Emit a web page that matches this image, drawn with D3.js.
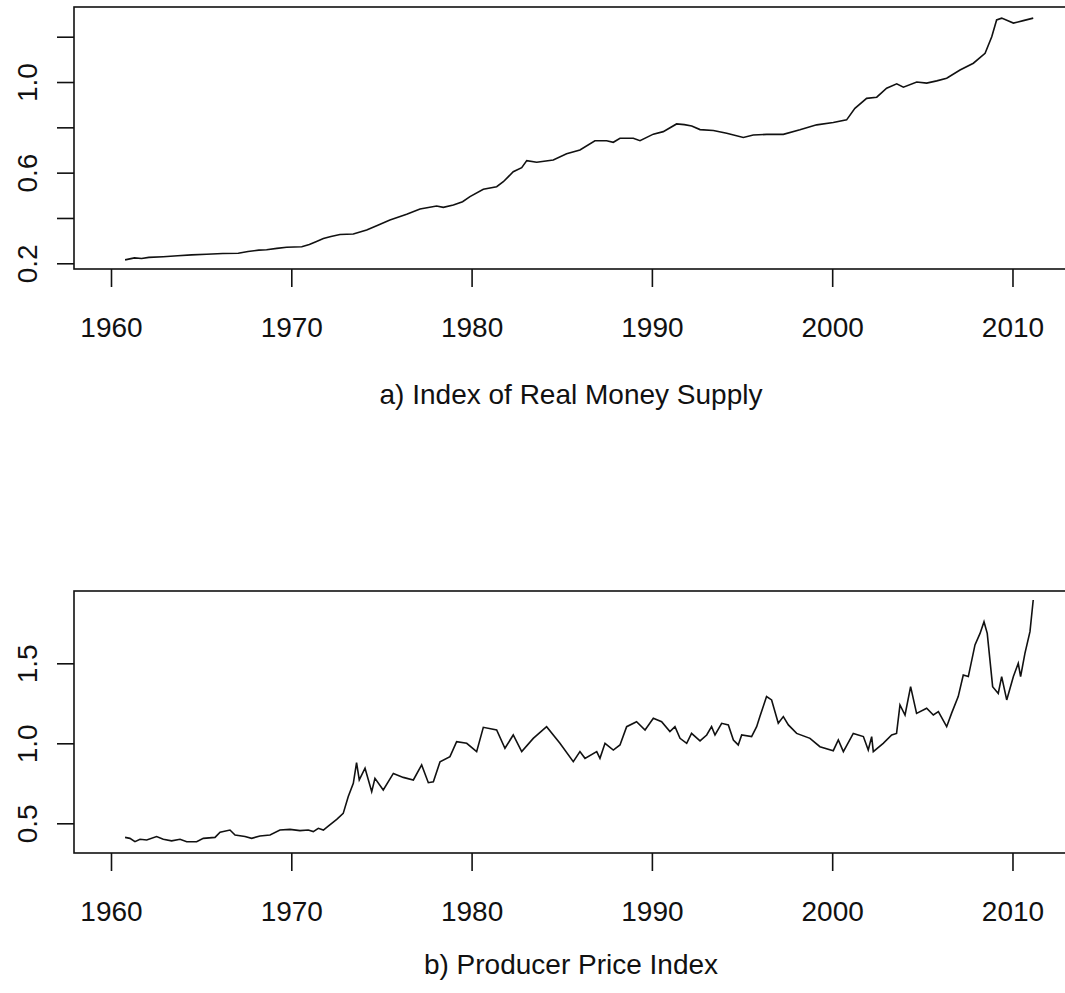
<!DOCTYPE html>
<html>
<head>
<meta charset="utf-8">
<script src="https://cdn.jsdelivr.net/npm/d3@7"></script>
<style>
  html, body { margin: 0; padding: 0; background: #fff; }
  svg { display: block; }
  text { font-family: "Liberation Sans", Arial, sans-serif; fill: #111; }
</style>
</head>
<body>
<svg id="chart" width="1065" height="993"></svg>
<script>
// ---- data -------------------------------------------------------------
// Panel a: index of real money supply (decimal year, index value)
const moneyYears = [1960.78, 1961.30, 1961.70, 1962.10, 1962.90, 1963.70, 1964.47, 1965.30, 1966.20,
  1967.06, 1967.60, 1968.20, 1968.63, 1969.20, 1969.74, 1970.58, 1971.00, 1971.40, 1971.78,
  1972.20, 1972.70, 1973.44, 1974.18, 1974.80, 1975.47, 1976.40, 1977.14, 1978.06, 1978.43,
  1978.99, 1979.50, 1979.91, 1980.65, 1981.39, 1981.76, 1982.31, 1982.78, 1983.06, 1983.61,
  1984.53, 1985.27, 1986.01, 1986.84, 1987.49, 1987.86, 1988.23, 1988.97, 1989.34, 1990.08,
  1990.63, 1991.37, 1991.80, 1992.21, 1992.67, 1993.41, 1994.15, 1995.07, 1995.62, 1996.37,
  1997.29, 1998.21, 1999.14, 2000.06, 2000.80, 2001.26, 2001.91, 2002.47, 2003.02, 2003.58,
  2003.95, 2004.69, 2005.24, 2005.80, 2006.35, 2007.09, 2007.83, 2008.48, 2008.85, 2009.12,
  2009.40, 2009.75, 2010.05, 2010.60, 2011.15];
const moneyValues = [0.215, 0.224, 0.221, 0.226, 0.229, 0.233, 0.237, 0.240, 0.243,
  0.244, 0.252, 0.258, 0.260, 0.266, 0.271, 0.273, 0.283, 0.296, 0.309,
  0.318, 0.327, 0.329, 0.347, 0.368, 0.391, 0.416, 0.440, 0.453, 0.447,
  0.457, 0.472, 0.494, 0.527, 0.538, 0.560, 0.604, 0.622, 0.653, 0.646,
  0.656, 0.683, 0.700, 0.741, 0.741, 0.734, 0.752, 0.752, 0.741, 0.770,
  0.781, 0.815, 0.812, 0.806, 0.790, 0.786, 0.774, 0.755, 0.766, 0.769,
  0.769, 0.789, 0.811, 0.821, 0.833, 0.884, 0.928, 0.933, 0.973, 0.992,
  0.977, 1.000, 0.995, 1.005, 1.017, 1.053, 1.083, 1.127, 1.200, 1.274,
  1.282, 1.270, 1.260, 1.271, 1.282];

// Panel b: producer price index (decimal year, index value)
const ppiYears = [1960.78, 1961.05, 1961.33, 1961.61, 1961.98, 1962.53, 1962.90, 1963.36, 1963.83,
  1964.20, 1964.75, 1965.12, 1965.77, 1966.05, 1966.60, 1966.88, 1967.43, 1967.80, 1968.26,
  1968.82, 1969.37, 1969.93, 1970.48, 1970.94, 1971.22, 1971.50, 1971.78, 1972.05, 1972.52,
  1972.88, 1973.16, 1973.44, 1973.62, 1973.77, 1974.09, 1974.46, 1974.64, 1975.10, 1975.66,
  1976.21, 1976.77, 1977.23, 1977.60, 1977.88, 1978.25, 1978.80, 1979.17, 1979.73, 1980.28,
  1980.65, 1981.39, 1981.85, 1982.31, 1982.78, 1983.42, 1984.16, 1984.90, 1985.64, 1986.01,
  1986.29, 1986.94, 1987.12, 1987.40, 1987.86, 1988.23, 1988.60, 1989.15, 1989.62, 1990.08,
  1990.54, 1991.00, 1991.28, 1991.56, 1991.93, 1992.20, 1992.67, 1993.04, 1993.31, 1993.50,
  1993.87, 1994.24, 1994.52, 1994.79, 1994.98, 1995.53, 1995.81, 1995.99, 1996.36, 1996.64,
  1997.01, 1997.29, 1997.57, 1998.03, 1998.77, 1999.32, 2000.06, 2000.34, 2000.62, 2001.17,
  2001.73, 2002.00, 2002.19, 2002.28, 2002.83, 2003.30, 2003.57, 2003.76, 2004.04, 2004.35,
  2004.68, 2005.24, 2005.61, 2005.89, 2006.35, 2006.62, 2006.99, 2007.27, 2007.55, 2007.92,
  2008.20, 2008.42, 2008.60, 2008.90, 2009.21, 2009.40, 2009.68, 2010.05, 2010.32, 2010.45,
  2010.69, 2010.97, 2011.15];
const ppiValues = [0.412, 0.406, 0.385, 0.400, 0.396, 0.417, 0.400, 0.390, 0.400,
  0.385, 0.385, 0.406, 0.412, 0.444, 0.458, 0.427, 0.417, 0.406, 0.421,
  0.427, 0.458, 0.462, 0.454, 0.458, 0.448, 0.469, 0.458, 0.483, 0.525,
  0.562, 0.667, 0.750, 0.879, 0.771, 0.844, 0.698, 0.781, 0.708, 0.812,
  0.787, 0.771, 0.865, 0.754, 0.760, 0.885, 0.917, 1.010, 1.000, 0.948,
  1.100, 1.083, 0.969, 1.052, 0.948, 1.031, 1.104, 1.000, 0.885, 0.948,
  0.906, 0.948, 0.906, 1.000, 0.958, 0.990, 1.104, 1.135, 1.083, 1.156,
  1.135, 1.073, 1.104, 1.031, 1.000, 1.062, 1.015, 1.052, 1.104, 1.052,
  1.125, 1.115, 1.021, 0.990, 1.052, 1.042, 1.104, 1.167, 1.292, 1.271,
  1.125, 1.167, 1.115, 1.062, 1.031, 0.979, 0.954, 1.021, 0.948, 1.062,
  1.042, 0.958, 1.042, 0.948, 1.000, 1.052, 1.062, 1.240, 1.177, 1.354,
  1.187, 1.219, 1.177, 1.198, 1.104, 1.187, 1.292, 1.427, 1.417, 1.615,
  1.687, 1.760, 1.687, 1.354, 1.312, 1.417, 1.271, 1.417, 1.500, 1.417,
  1.562, 1.698, 1.896];

const yearTicks = [1960, 1970, 1980, 1990, 2000, 2010];
const moneyTicks = [0.2, 0.4, 0.6, 0.8, 1.0, 1.2];
const moneyTickLabels = ["0.2", "", "0.6", "", "1.0", ""];
const ppiTicks = [0.5, 1.0, 1.5];
const ppiTickLabels = ["0.5", "1.0", "1.5"];

// ---- drawing ----------------------------------------------------------
const svg = d3.select("#chart");
svg.append("rect").attr("width", 1065).attr("height", 993).attr("fill", "#fff");

const FONT = 28;

function panel(opts) {
  const { top, bottom, left, right, xDomain, yDomain, years, values,
          yTicks, yLabels, title, titleY } = opts;
  const x = d3.scaleLinear().domain(xDomain).range([left, right]);
  const y = d3.scaleLinear().domain(yDomain).range([bottom, top]);
  const g = svg.append("g");

  // series line
  const pts = years.map((yr, i) => [yr, values[i]]);
  g.append("path")
    .datum(pts)
    .attr("fill", "none")
    .attr("stroke", "#111")
    .attr("stroke-width", 1.6)
    .attr("stroke-linejoin", "miter")
    .attr("d", d3.line().x(d => x(d[0])).y(d => y(d[1])));

  // plot frame
  g.append("rect")
    .attr("x", left).attr("y", top)
    .attr("width", right - left).attr("height", bottom - top)
    .attr("fill", "none").attr("stroke", "#111").attr("stroke-width", 1.6);

  // bottom axis
  const xAxis = d3.axisBottom(x).tickValues(yearTicks).tickSize(18)
    .tickPadding(50).tickFormat(d3.format("d"));
  const xa = g.append("g").attr("transform", `translate(0,${bottom})`).call(xAxis);
  xa.select(".domain").remove();
  xa.selectAll(".tick line").attr("stroke", "#111").attr("stroke-width", 1.6);
  xa.selectAll(".tick text")
    .attr("dy", null).attr("y", 68)
    .style("font-size", FONT + "px")
    .style("font-family", '"Liberation Sans", Arial, sans-serif')
    .attr("fill", "#111");

  // left axis
  const yAxis = d3.axisLeft(y).tickValues(yTicks).tickSize(17)
    .tickFormat((d, i) => yLabels[i]);
  const ya = g.append("g").attr("transform", `translate(${left},0)`).call(yAxis);
  ya.select(".domain").remove();
  ya.selectAll(".tick line").attr("stroke", "#111").attr("stroke-width", 1.6);
  ya.selectAll(".tick text")
    .attr("x", null).attr("dy", null)
    .attr("text-anchor", "middle")
    .attr("transform", `translate(${36.5 - left},0) rotate(-90)`)
    .style("font-size", FONT + "px")
    .style("font-family", '"Liberation Sans", Arial, sans-serif')
    .attr("fill", "#111");

  // caption under the panel
  g.append("text")
    .attr("x", 571).attr("y", titleY)
    .attr("text-anchor", "middle")
    .style("font-size", FONT + "px")
    .text(title);
}

const xDomain = [1957.948, 2013.19];

panel({
  top: 7, bottom: 269, left: 74, right: 1070,
  xDomain, yDomain: [0.1748, 1.3311],
  years: moneyYears, values: moneyValues,
  yTicks: moneyTicks, yLabels: moneyTickLabels,
  title: "a) Index of Real Money Supply", titleY: 404
});

panel({
  top: 591, bottom: 853, left: 74, right: 1070,
  xDomain, yDomain: [0.3144, 1.952],
  years: ppiYears, values: ppiValues,
  yTicks: ppiTicks, yLabels: ppiTickLabels,
  title: "b) Producer Price Index", titleY: 974
});
</script>
</body>
</html>
